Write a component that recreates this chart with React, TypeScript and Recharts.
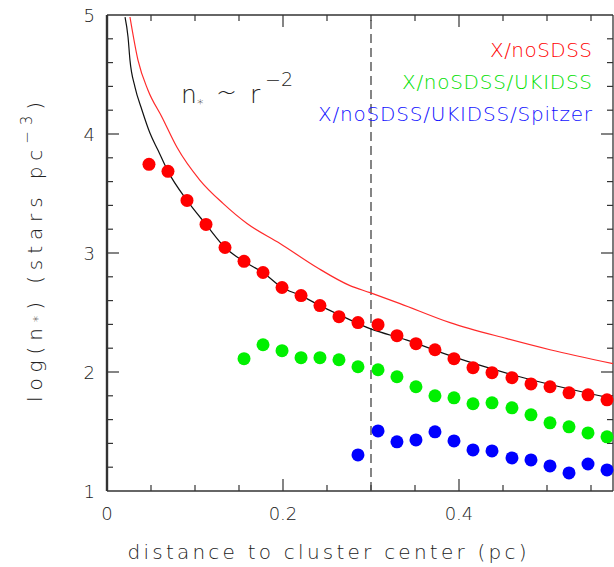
import { ComposedChart, XAxis, YAxis, Scatter, Line, ReferenceLine } from 'recharts';

// radial bins (pc) shared by the three density profiles
const radii = [
  0.0477, 0.0693, 0.0909, 0.1125, 0.1341, 0.1557, 0.1773, 0.1989, 0.2205, 0.242,
  0.2636, 0.2852, 0.308, 0.3295, 0.3511, 0.3727, 0.3943, 0.4159, 0.4375, 0.4602,
  0.4818, 0.5034, 0.525, 0.5466, 0.5682,
];

// log density, X-ray sources without SDSS counterpart
const noSdss = [
  3.745, 3.686, 3.442, 3.24, 3.046, 2.93, 2.836, 2.71, 2.642, 2.558,
  2.465, 2.415, 2.398, 2.305, 2.238, 2.187, 2.112, 2.036, 1.994, 1.952,
  1.9, 1.876, 1.825, 1.808, 1.766,
];

// ... also without UKIDSS (starts at the 6th bin)
const noUkidss = [
  2.112, 2.229, 2.179, 2.12, 2.12, 2.103, 2.044, 2.019, 1.96, 1.876,
  1.8, 1.783, 1.733, 1.741, 1.699, 1.64, 1.573, 1.539, 1.488, 1.455,
];

// ... also without Spitzer (starts at the 12th bin)
const noSpitzer = [
  1.303, 1.505, 1.413, 1.429, 1.497, 1.421, 1.345, 1.337, 1.278, 1.261,
  1.211, 1.152, 1.227, 1.177,
];

// r^-2 fit through the noSDSS profile
const fitR = [
  0.0205, 0.0239, 0.0261, 0.0318, 0.0398, 0.0489, 0.058, 0.0693, 0.0909, 0.1125,
  0.1341, 0.1557, 0.1773, 0.1989, 0.2205, 0.242, 0.2636, 0.2989, 0.34, 0.394,
  0.469, 0.575,
];
const fitLog = [
  4.983, 4.815, 4.621, 4.394, 4.2, 4.006, 3.863, 3.686, 3.442, 3.24,
  3.046, 2.928, 2.836, 2.71, 2.642, 2.558, 2.482, 2.364, 2.27, 2.127,
  1.96, 1.776,
];

// upper reference profile
const refR = [
  0.0261, 0.0352, 0.0466, 0.0625, 0.0795, 0.1057, 0.1318, 0.1591, 0.1966, 0.2386,
  0.2761, 0.2989, 0.333, 0.3898, 0.4545, 0.5034, 0.575,
];
const refLog = [
  4.983, 4.621, 4.368, 4.141, 3.888, 3.611, 3.417, 3.248, 3.08, 2.878,
  2.726, 2.667, 2.575, 2.415, 2.28, 2.187, 2.07,
];

const xDomain = [0, 0.575];
const yDomain = [1, 5];
const xTicks = [0.05, 0.1, 0.15, 0.2, 0.25, 0.3, 0.35, 0.4, 0.45, 0.5, 0.55];
const xLabels = [0, 0.2, 0.4];
const yTicks = [
  1.2, 1.4, 1.6, 1.8, 2, 2.2, 2.4, 2.6, 2.8, 3, 3.2, 3.4, 3.6, 3.8, 4,
  4.2, 4.4, 4.6, 4.8,
];
const yLabels = [1, 2, 3, 4, 5];
const cutRadius = 0.3;

const redData = radii.map((r, i) => ({ r, v: noSdss[i] }));
const greenData = radii.slice(5).map((r, i) => ({ r, v: noUkidss[i] }));
const blueData = radii.slice(11).map((r, i) => ({ r, v: noSpitzer[i] }));
const fitData = fitR.map((r, i) => ({ r, v: fitLog[i] }));
const refData = refR.map((r, i) => ({ r, v: refLog[i] }));

const W = 614;
const H = 567;
const FONT = '"DejaVu Sans", sans-serif';
const INK = '#222';

const dot = (color: string) => (p: any) => <circle cx={p.cx} cy={p.cy} r={6.5} fill={color} />;

// inward tick marks at both ends of a full-height/full-width reference line
const vTick = (len: number) => (p: any) => {
  const top = Math.min(p.y1, p.y2);
  const bot = Math.max(p.y1, p.y2);
  return (
    <g>
      <line x1={p.x1} x2={p.x1} y1={bot} y2={bot - len} stroke="#333" strokeWidth={1.2} />
      <line x1={p.x1} x2={p.x1} y1={top} y2={top + len} stroke="#333" strokeWidth={1.2} />
    </g>
  );
};
const hTick = (len: number) => (p: any) => {
  const left = Math.min(p.x1, p.x2);
  const right = Math.max(p.x1, p.x2);
  return (
    <g>
      <line x1={left} x2={left + len} y1={p.y1} y2={p.y1} stroke="#333" strokeWidth={1.2} />
      <line x1={right} x2={right - len} y1={p.y1} y2={p.y1} stroke="#333" strokeWidth={1.2} />
    </g>
  );
};

const BottomLabel = ({ x, y, payload }: any) => (
  <text x={x} y={y + 29} textAnchor="middle" fontSize={18} fontFamily={FONT} fontWeight={200} fill={INK}>
    {String(payload.value)}
  </text>
);

const LeftLabel = ({ x, y, payload }: any) => (
  <text x={x - 12} y={y + 7} textAnchor="end" fontSize={18} fontFamily={FONT} fontWeight={200} fill={INK}>
    {String(payload.value)}
  </text>
);

export default function App() {
  return (
    <div style={{ position: 'absolute', left: 0, top: 0 }}>
      <ComposedChart width={W} height={H} margin={{ top: 15, right: 1, bottom: 75, left: 106 }}>
        <XAxis
          dataKey="r"
          type="number"
          domain={xDomain}
          ticks={xLabels}
          interval={0}
          height={1}
          tickSize={0}
          tickMargin={0}
          tick={(p: any) => <BottomLabel {...p} />}
          axisLine={false}
          tickLine={false}
        />
        <YAxis
          dataKey="v"
          type="number"
          domain={yDomain}
          ticks={yLabels}
          interval={0}
          width={1}
          tickSize={0}
          tickMargin={0}
          tick={(p: any) => <LeftLabel {...p} />}
          axisLine={false}
          tickLine={false}
        />

        {/* frame */}
        <ReferenceLine x={xDomain[0]} stroke="#333" strokeWidth={2.4} />
        <ReferenceLine x={xDomain[1]} stroke="#333" strokeWidth={1.3} />
        <ReferenceLine y={yDomain[0]} stroke="#333" strokeWidth={1.3} />
        <ReferenceLine y={yDomain[1]} stroke="#333" strokeWidth={1.3} />

        {xTicks.map((t) => (
          <ReferenceLine key={`x${t}`} x={t} shape={vTick(xLabels.includes(t) ? 12 : 6)} />
        ))}
        {yTicks.map((t) => (
          <ReferenceLine key={`y${t}`} y={t} shape={hTick(yLabels.includes(t) ? 12 : 6)} />
        ))}

        <ReferenceLine x={cutRadius} stroke="#444" strokeWidth={1.3} strokeDasharray="9 5" />
        <Scatter data={redData} dataKey="v" shape={dot('#ff0000')} isAnimationActive={false} />
        <Scatter data={greenData} dataKey="v" shape={dot('#00f000')} isAnimationActive={false} />
        <Scatter data={blueData} dataKey="v" shape={dot('#0000ff')} isAnimationActive={false} />
        <Line data={refData} dataKey="v" type="monotone" stroke="#ff2a2a" strokeWidth={1.2} dot={false} activeDot={false} isAnimationActive={false} />
        <Line data={fitData} dataKey="v" type="monotone" stroke="#111" strokeWidth={1.2} dot={false} activeDot={false} isAnimationActive={false} />
      </ComposedChart>

      <svg width={W} height={H} style={{ position: 'absolute', left: 0, top: 0, pointerEvents: 'none' }}>
        <g fontFamily={FONT} fontWeight={200}>
          <text x={592} y={57} textAnchor="end" fontSize={20} fill="#ff0000" textLength={102} lengthAdjust="spacing">
            X/noSDSS
          </text>
          <text x={592} y={89} textAnchor="end" fontSize={20} fill="#00e000" textLength={190} lengthAdjust="spacing">
            X/noSDSS/UKIDSS
          </text>
          <text x={592} y={121} textAnchor="end" fontSize={20} fill="#1010ff" textLength={274} lengthAdjust="spacing">
            X/noSDSS/UKIDSS/Spitzer
          </text>

          <g fill={INK}>
            <text x={181} y={103} fontSize={25}>n</text>
            <text x={197} y={108} fontSize={13}>*</text>
            <text x={216} y={101} fontSize={25}>~</text>
            <text x={250} y={103} fontSize={25}>r</text>
            <text x={265} y={86} fontSize={19}>−2</text>
          </g>

          <text x={327} y={559} textAnchor="middle" fontSize={20} fill={INK} textLength={399} lengthAdjust="spacing">
            distance to cluster center (pc)
          </text>

          <text
            x={42}
            y={252}
            textAnchor="middle"
            fontSize={20}
            fill={INK}
            transform="rotate(-90 42 252)"
            textLength={300}
            lengthAdjust="spacing"
          >
            log(n<tspan fontSize={13}>*</tspan>) (stars pc<tspan fontSize={15} dy={-10}>−3</tspan>
            <tspan dy={10}>)</tspan>
          </text>
        </g>
      </svg>
    </div>
  );
}
